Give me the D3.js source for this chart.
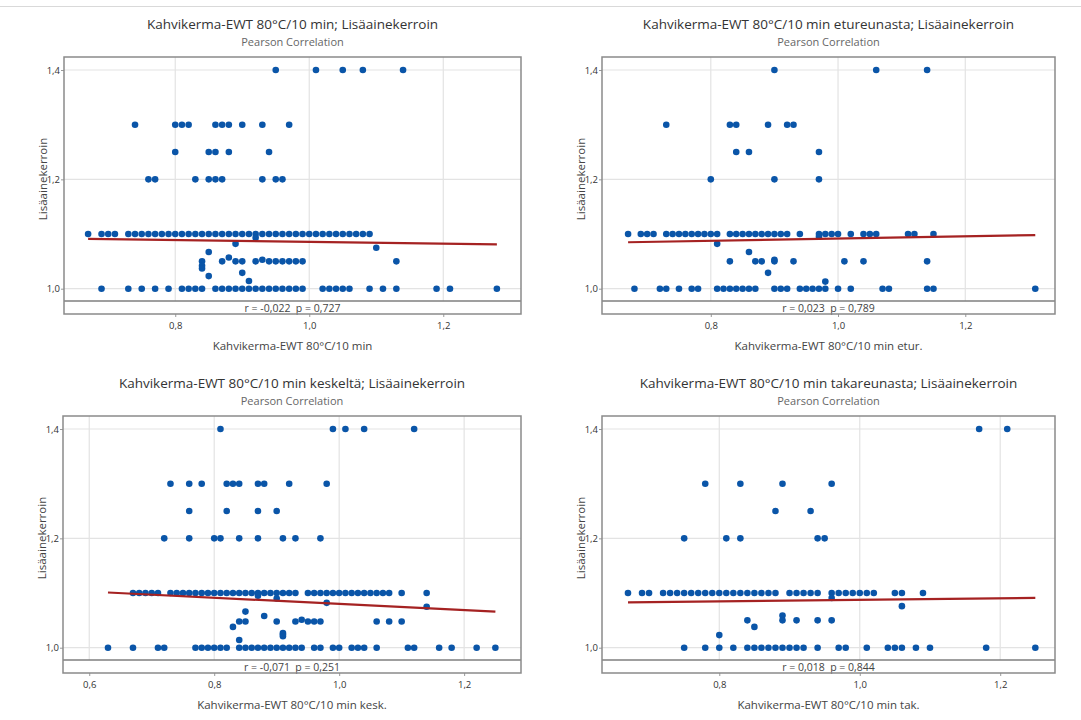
<!DOCTYPE html>
<html>
<head>
<meta charset="utf-8">
<script src="https://cdn.jsdelivr.net/npm/d3@7"></script>
<style>
  body { margin: 0; background: #fff; }
  svg { display: block; font-family: "Open Sans", "Noto Sans", sans-serif; }
</style>
</head>
<body>
<svg id="canvas" width="1081" height="720"></svg>
<script>
// Data: x values grouped by the y level they sit on
let rowLevels = [1.4, 1.3, 1.25, 1.2, 1.1, 1.0];

let p1Rows = [
  [0.95, 1.01, 1.05, 1.08, 1.14],
  [0.74, 0.80, 0.81, 0.82, 0.86, 0.87, 0.88, 0.90, 0.93, 0.97],
  [0.80, 0.85, 0.86, 0.88, 0.94],
  [0.76, 0.77, 0.83, 0.85, 0.86, 0.87, 0.93, 0.95, 0.96],
  [0.67, 0.69, 0.70, 0.71, 0.73, 0.74, 0.75, 0.76, 0.77, 0.78, 0.79, 0.80, 0.81, 0.82, 0.83, 0.84, 0.85, 0.86, 0.87, 0.88, 0.89,
   0.90, 0.91, 0.92, 0.93, 0.94, 0.95, 0.96, 0.97, 0.98, 0.99, 1.00, 1.01, 1.02, 1.03, 1.04, 1.05, 1.06, 1.07, 1.08, 1.09],
  [0.69, 0.73, 0.75, 0.77, 0.79, 0.81, 0.82, 0.83, 0.84, 0.86, 0.87, 0.88, 0.89, 0.90, 0.91, 0.92, 0.93, 0.94, 0.95, 0.96,
   0.97, 0.98, 0.99, 1.02, 1.03, 1.04, 1.05, 1.06, 1.09, 1.11, 1.13, 1.19, 1.21, 1.28]
];
let p1Mid = [[0.92, 1.093], [0.89, 1.082], [1.10, 1.075], [0.85, 1.067], [0.88, 1.057], [0.93, 1.053], [0.84, 1.05],
  [0.84, 1.042], [0.84, 1.037], [0.85, 1.023], [0.87, 1.05], [0.89, 1.05], [0.90, 1.05], [0.90, 1.029], [0.91, 1.014],
  [0.92, 1.05], [0.94, 1.05], [0.95, 1.05], [0.96, 1.05], [0.97, 1.05], [0.98, 1.05], [0.99, 1.05], [1.13, 1.05]];
let p1Fit = [0.67, 1.091, 1.28, 1.081];

let p2Rows = [
  [0.90, 1.06, 1.14],
  [0.73, 0.83, 0.84, 0.89, 0.92, 0.93],
  [0.84, 0.86, 0.97],
  [0.80, 0.90, 0.97],
  [0.67, 0.69, 0.70, 0.71, 0.73, 0.74, 0.75, 0.76, 0.77, 0.78, 0.79, 0.80, 0.81, 0.83, 0.84, 0.85, 0.86, 0.87, 0.88, 0.89,
   0.90, 0.91, 0.92, 0.94, 0.97, 0.98, 0.99, 1.00, 1.02, 1.04, 1.05, 1.06, 1.11, 1.12, 1.15],
  [0.68, 0.72, 0.73, 0.75, 0.77, 0.78, 0.81, 0.82, 0.83, 0.84, 0.85, 0.86, 0.87, 0.90, 0.91, 0.92, 0.94, 0.95, 0.96, 0.97,
   0.98, 1.00, 1.02, 1.07, 1.08, 1.14, 1.15, 1.31]
];
let p2Mid = [[0.97, 1.095], [0.81, 1.082], [0.86, 1.067], [0.83, 1.05], [0.87, 1.05], [0.88, 1.05], [0.90, 1.053],
  [0.90, 1.05], [0.93, 1.05], [1.01, 1.05], [1.04, 1.05], [1.14, 1.05], [0.89, 1.029], [0.98, 1.013]];
let p2Fit = [0.67, 1.085, 1.31, 1.098];

let p3Rows = [
  [0.81, 0.99, 1.01, 1.04, 1.12],
  [0.73, 0.76, 0.78, 0.82, 0.83, 0.84, 0.87, 0.88, 0.92, 0.98],
  [0.76, 0.82, 0.87, 0.90],
  [0.72, 0.76, 0.80, 0.81, 0.84, 0.87, 0.91, 0.93, 0.97],
  [0.67, 0.68, 0.69, 0.70, 0.71, 0.73, 0.74, 0.75, 0.76, 0.77, 0.78, 0.79, 0.80, 0.81, 0.82, 0.83, 0.84, 0.85, 0.86, 0.87,
   0.88, 0.89, 0.90, 0.91, 0.92, 0.93, 0.95, 0.96, 0.97, 0.98, 0.99, 1.00, 1.01, 1.02, 1.03, 1.04, 1.05, 1.06, 1.07, 1.08,
   1.10, 1.14],
  [0.63, 0.67, 0.71, 0.72, 0.77, 0.78, 0.79, 0.80, 0.81, 0.82, 0.84, 0.85, 0.86, 0.87, 0.88, 0.89, 0.90, 0.91, 0.92, 0.93,
   0.94, 0.96, 0.97, 0.99, 1.00, 1.02, 1.03, 1.04, 1.06, 1.11, 1.12, 1.16, 1.18, 1.22, 1.25]
];
let p3Mid = [[0.87, 1.095], [0.90, 1.090], [0.98, 1.082], [1.14, 1.075], [0.85, 1.066], [0.88, 1.058], [0.84, 1.048],
  [0.85, 1.048], [0.90, 1.048], [0.93, 1.048], [0.94, 1.051], [0.95, 1.048], [0.96, 1.048], [0.97, 1.048], [1.06, 1.048],
  [1.08, 1.048], [1.10, 1.048], [0.83, 1.038], [0.91, 1.027], [0.91, 1.024], [0.91, 1.021], [0.84, 1.014]];
let p3Fit = [0.63, 1.101, 1.25, 1.066];

let p4Rows = [
  [1.17, 1.21],
  [0.78, 0.83, 0.89, 0.96],
  [0.88, 0.93],
  [0.75, 0.81, 0.83, 0.94, 0.95],
  [0.67, 0.69, 0.70, 0.72, 0.73, 0.74, 0.75, 0.76, 0.77, 0.78, 0.79, 0.80, 0.81, 0.82, 0.83, 0.84, 0.85, 0.86, 0.87, 0.88,
   0.90, 0.91, 0.92, 0.93, 0.94, 0.96, 0.97, 0.98, 0.99, 1.00, 1.01, 1.02, 1.05, 1.06, 1.09],
  [0.75, 0.78, 0.80, 0.82, 0.84, 0.85, 0.86, 0.87, 0.88, 0.89, 0.90, 0.91, 0.92, 0.94, 0.97, 0.98, 1.01, 1.04, 1.05, 1.06,
   1.08, 1.10, 1.18, 1.25]
];
let p4Mid = [[0.96, 1.091], [1.06, 1.076], [0.89, 1.059], [0.84, 1.05], [0.89, 1.05], [0.91, 1.05], [0.94, 1.05],
  [0.96, 1.05], [0.85, 1.038], [0.80, 1.023]];
let p4Fit = [0.67, 1.083, 1.25, 1.091];

let titles = [
  "Kahvikerma-EWT 80°C/10 min; Lisäainekerroin",
  "Kahvikerma-EWT 80°C/10 min etureunasta; Lisäainekerroin",
  "Kahvikerma-EWT 80°C/10 min keskeltä; Lisäainekerroin",
  "Kahvikerma-EWT 80°C/10 min takareunasta; Lisäainekerroin"
];
let xTitles = [
  "Kahvikerma-EWT 80°C/10 min",
  "Kahvikerma-EWT 80°C/10 min etur.",
  "Kahvikerma-EWT 80°C/10 min kesk.",
  "Kahvikerma-EWT 80°C/10 min tak."
];
let stats = [
  "r = -0,022  p = 0,727",
  "r = 0,023  p = 0,789",
  "r = -0,071  p = 0,251",
  "r = 0,018  p = 0,844"
];
let xTicks = [[0.8, 1.0, 1.2], [0.8, 1.0, 1.2], [0.6, 0.8, 1.0, 1.2], [0.8, 1.0, 1.2]];
let yTicks = [1.0, 1.2, 1.4];
let yTitle = "Lisäainekerroin";

// layout of each panel (box edges in px and the x range they show)
let panels = [
  { rows: p1Rows, mid: p1Mid, fit: p1Fit, left: 64, right: 521, top: 57, xDom: [0.634, 1.316] },
  { rows: p2Rows, mid: p2Mid, fit: p2Fit, left: 602, right: 1055, top: 57, xDom: [0.629, 1.341] },
  { rows: p3Rows, mid: p3Mid, fit: p3Fit, left: 63, right: 521, top: 416, xDom: [0.558, 1.291] },
  { rows: p4Rows, mid: p4Mid, fit: p4Fit, left: 602, right: 1055, top: 416, xDom: [0.633, 1.278] }
];

let canvas = d3.select("#canvas");
let fmt = (d) => d3.format(".1f")(d).replace(".", ",");

// thin page frame line at the top
canvas.append("line").attr("x1", 0).attr("x2", 1081).attr("y1", 6.5).attr("y2", 6.5)
  .attr("stroke", "#d9d9d9").attr("stroke-width", 1);

panels.forEach((p, i) => {
  let stripTop = p.top + 244;
  let bottom = p.top + 257;
  let x = d3.scaleLinear().domain(p.xDom).range([p.left, p.right]);
  let y = d3.scaleLinear().domain([1.0, 1.4]).range([p.top + 231.7, p.top + 13]);
  let g = canvas.append("g");
  let cx = (p.left + p.right) / 2;

  // titles
  g.append("text").attr("x", cx).attr("y", p.top - 28).attr("text-anchor", "middle")
    .attr("font-size", 13.5).attr("fill", "#333").text(titles[i]);
  g.append("text").attr("x", cx).attr("y", p.top - 11).attr("text-anchor", "middle")
    .attr("font-size", 11).attr("fill", "#666").text("Pearson Correlation");

  // grid
  g.selectAll(".vg").data(xTicks[i]).enter().append("line")
    .attr("x1", (d) => x(d)).attr("x2", (d) => x(d))
    .attr("y1", p.top).attr("y2", stripTop)
    .attr("stroke", "#e3e3e3").attr("stroke-width", 1.2);
  g.selectAll(".hg").data(yTicks).enter().append("line")
    .attr("x1", p.left).attr("x2", p.right)
    .attr("y1", (d) => y(d)).attr("y2", (d) => y(d))
    .attr("stroke", "#e3e3e3").attr("stroke-width", 1.2);

  // axes
  let xAxis = d3.axisBottom(x).tickValues(xTicks[i]).tickFormat(fmt).tickSize(3).tickPadding(5);
  let ax = g.append("g").attr("transform", `translate(0,${bottom})`).call(xAxis);
  let yAxis = d3.axisLeft(y).tickValues(yTicks).tickFormat(fmt).tickSize(3).tickPadding(1);
  let ay = g.append("g").attr("transform", `translate(${p.left},0)`).call(yAxis);
  [ax, ay].forEach((a) => {
    a.select(".domain").remove();
    a.selectAll(".tick line").attr("stroke", "#999");
    a.selectAll(".tick text").attr("fill", "#333").attr("font-size", 9.5)
      .attr("font-family", "'Open Sans', sans-serif");
  });

  g.append("text").attr("x", cx).attr("y", bottom + 36).attr("text-anchor", "middle")
    .attr("font-size", 11.5).attr("fill", "#444").text(xTitles[i]);
  g.append("text").attr("transform", `translate(${p.left - 17},${(p.top + stripTop) / 2}) rotate(-90)`)
    .attr("text-anchor", "middle").attr("font-size", 11.5).attr("fill", "#444").text(yTitle);

  // points
  let pts = [];
  p.rows.forEach((row, r) => row.forEach((v) => pts.push([v, rowLevels[r]])));
  p.mid.forEach((d) => pts.push(d));
  g.selectAll(".dot").data(pts).enter().append("circle")
    .attr("cx", (d) => x(d[0])).attr("cy", (d) => y(d[1])).attr("r", 3.3)
    .attr("fill", "#0a55a8");

  // fitted line
  g.append("line")
    .attr("x1", x(p.fit[0])).attr("y1", y(p.fit[1]))
    .attr("x2", x(p.fit[2])).attr("y2", y(p.fit[3]))
    .attr("stroke", "#a52222").attr("stroke-width", 2.2);

  // stats strip + frame
  g.append("line").attr("x1", p.left).attr("x2", p.right).attr("y1", stripTop).attr("y2", stripTop)
    .attr("stroke", "#7f7f7f").attr("stroke-width", 1.3);
  g.append("text").attr("x", cx).attr("y", stripTop + 10.5).attr("text-anchor", "middle")
    .attr("font-size", 10.5).attr("fill", "#444").attr("xml:space", "preserve").text(stats[i]);
  g.append("rect").attr("x", p.left).attr("y", p.top).attr("width", p.right - p.left)
    .attr("height", bottom - p.top).attr("fill", "none").attr("stroke", "#8a8a8a").attr("stroke-width", 1.5);
});
</script>
</body>
</html>
